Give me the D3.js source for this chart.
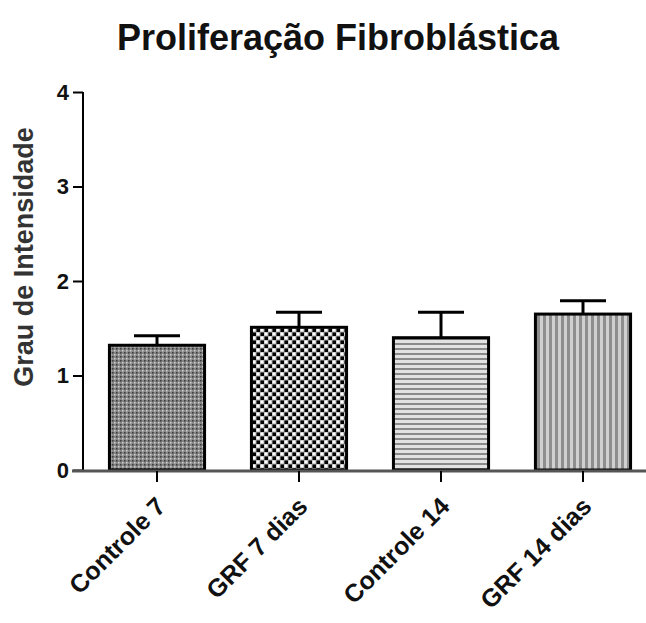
<!DOCTYPE html>
<html><head><meta charset="utf-8">
<script src="https://cdn.jsdelivr.net/npm/d3@7"></script>
<style>body{margin:0;background:#fff}svg{display:block}text{font-family:"Liberation Sans",Arial,sans-serif;font-weight:bold;fill:#111}</style>
</head><body>
<script>
const categories = ["Controle 7", "GRF 7 dias", "Controle 14", "GRF 14 dias"];
const means = [1.32, 1.51, 1.40, 1.65];
const errors = [0.10, 0.16, 0.27, 0.14];
const yTicks = [0, 1, 2, 3, 4];
const title = "Proliferação Fibroblástica";
const yLabel = "Grau de Intensidade";

const W = 646, H = 623;
const svg = d3.select("body").append("svg").attr("width", W).attr("height", H);
const defs = svg.append("defs");

// patterns
const p1 = defs.append("pattern").attr("id","p0").attr("width",4).attr("height",4).attr("patternUnits","userSpaceOnUse");
p1.append("rect").attr("width",4).attr("height",4).attr("fill","#858585");
p1.append("rect").attr("x",0).attr("y",0).attr("width",1.5).attr("height",1.5).attr("fill","#3a3a3a");
p1.append("rect").attr("x",2).attr("y",2).attr("width",1.5).attr("height",1.5).attr("fill","#d0d0d0");

const p2 = defs.append("pattern").attr("id","p1").attr("width",8).attr("height",8).attr("patternUnits","userSpaceOnUse");
p2.append("rect").attr("width",8).attr("height",8).attr("fill","#a8a8a8");
p2.append("rect").attr("x",0.5).attr("y",0.5).attr("width",3.5).attr("height",3.5).attr("fill","#000");
p2.append("rect").attr("x",4.5).attr("y",4.5).attr("width",3.5).attr("height",3.5).attr("fill","#000");
p2.append("rect").attr("x",4.5).attr("y",0.5).attr("width",3).attr("height",3).attr("fill","#fff");
p2.append("rect").attr("x",0.5).attr("y",4.5).attr("width",3).attr("height",3).attr("fill","#fff");

const p3 = defs.append("pattern").attr("id","p2").attr("width",5).attr("height",5).attr("patternUnits","userSpaceOnUse");
p3.append("rect").attr("width",5).attr("height",5).attr("fill","#e2e2e2");
p3.append("rect").attr("y",3).attr("width",5).attr("height",2).attr("fill","#8a8a8a");

const p4 = defs.append("pattern").attr("id","p3").attr("width",6).attr("height",6).attr("patternUnits","userSpaceOnUse");
p4.append("rect").attr("width",6).attr("height",6).attr("fill","#d0d0d0");
p4.append("rect").attr("x",3).attr("width",3).attr("height",6).attr("fill","#8e8e8e");

const x = d3.scaleBand().domain(categories).range([86, 654]).paddingInner(0.33).paddingOuter(0.165);
const y = d3.scaleLinear().domain([0, 4]).range([470, 92]);

// title
svg.append("text").attr("x", 338).attr("y", 50).attr("text-anchor","middle")
  .style("font-size","36px").text(title);

// y label
svg.append("text").attr("transform","translate(33,257) rotate(-90)").attr("text-anchor","middle")
  .style("font-size","27px").style("fill","#333").text(yLabel);

// bars
const g = svg.append("g");
g.selectAll("rect.bar").data(categories).enter().append("rect")
  .attr("x", d => x(d)).attr("y", (d,i) => y(means[i]))
  .attr("width", x.bandwidth()).attr("height", (d,i) => y(0) - y(means[i]))
  .attr("fill", (d,i) => `url(#p${i})`).attr("stroke","#000").attr("stroke-width",3);

// error bars
categories.forEach((c,i) => {
  const cx = x(c) + x.bandwidth()/2;
  g.append("line").attr("x1",cx).attr("x2",cx).attr("y1",y(means[i])).attr("y2",y(means[i]+errors[i]))
    .attr("stroke","#000").attr("stroke-width",3);
  g.append("line").attr("x1",cx-23).attr("x2",cx+23).attr("y1",y(means[i]+errors[i])).attr("y2",y(means[i]+errors[i]))
    .attr("stroke","#000").attr("stroke-width",3);
});

// y axis
const ya = svg.append("g").attr("transform","translate(83,0)")
  .call(d3.axisLeft(y).tickValues(yTicks).tickFormat(d3.format("d")).tickSize(10).tickPadding(4));
ya.select(".domain").attr("stroke","#000").attr("stroke-width",2).attr("d","M0,92V471");
ya.selectAll(".tick line").attr("stroke","#000").attr("stroke-width",2);
ya.selectAll(".tick text").style("font-size","22px").style("font-family","Liberation Sans, Arial").style("font-weight","bold").attr("fill","#111");

// x axis
const xa = svg.append("g").attr("transform","translate(0,471)")
  .call(d3.axisBottom(x).tickSize(11).tickFormat(""));
xa.select(".domain").attr("stroke","#555").attr("stroke-width",3).attr("d","M72,0H646");
xa.selectAll(".tick line").attr("stroke","#000").attr("stroke-width",2);

svg.append("g").selectAll("text.xl").data(categories).enter().append("text")
  .attr("text-anchor","end")
  .attr("transform", d => `translate(${x(d) + x.bandwidth()/2 + 10},508) rotate(-45)`)
  .style("font-size","25px").text(d => d);
</script>
</body></html>
